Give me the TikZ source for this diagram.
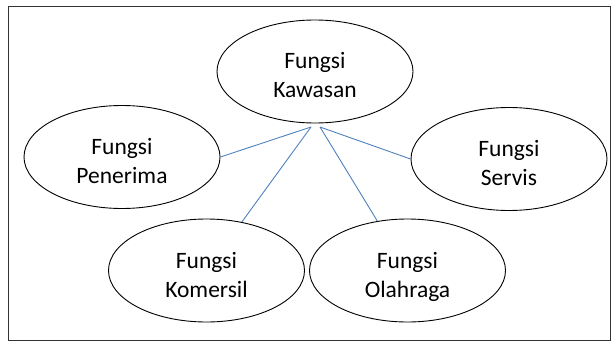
\documentclass[tikz,border=0pt]{standalone}
\usepackage{fontspec}
\setmainfont{Carlito}
\usetikzlibrary{shapes.geometric}

\begin{document}
\begin{tikzpicture}[x=1pt,y=-1pt,
        fungsi/.style={ellipse, draw=black, line width=0.9pt, minimum width=196pt, minimum height=103pt, inner sep=0pt, align=center, font=\fontsize{23.5}{29}\selectfont, text height=53pt, text depth=0pt},
        garis/.style={draw={rgb,255:red,79;green,129;blue,189}, line width=0.9pt}
        ]
        \useasboundingbox (0,0) rectangle (612,342);
        \draw[line width=0.9pt, black!80] (8,6) rectangle (610,340);
        \node (kaw) [fungsi] at (315,71.5) {Fungsi\\Kawasan};
        \node (pen) [fungsi] at (122,157) {Fungsi\\Penerima};
        \node (ser) [fungsi] at (509,159) {Fungsi\\Servis};
        \node (kom) [fungsi] at (206.5,270.5) {Fungsi\\Komersil};
        \node (ola) [fungsi] at (407.5,270.5) {Fungsi\\Olahraga};
        \coordinate (kl) at (311,127);
        \coordinate (kr) at (320,127);
        \draw[garis] (pen.east) -- (kl);
        \draw[garis] (kom) -- (kl);
        \draw[garis] (ola) -- (kr);
        \draw[garis] (ser.west) -- (kr);
\end{tikzpicture}
\end{document}
